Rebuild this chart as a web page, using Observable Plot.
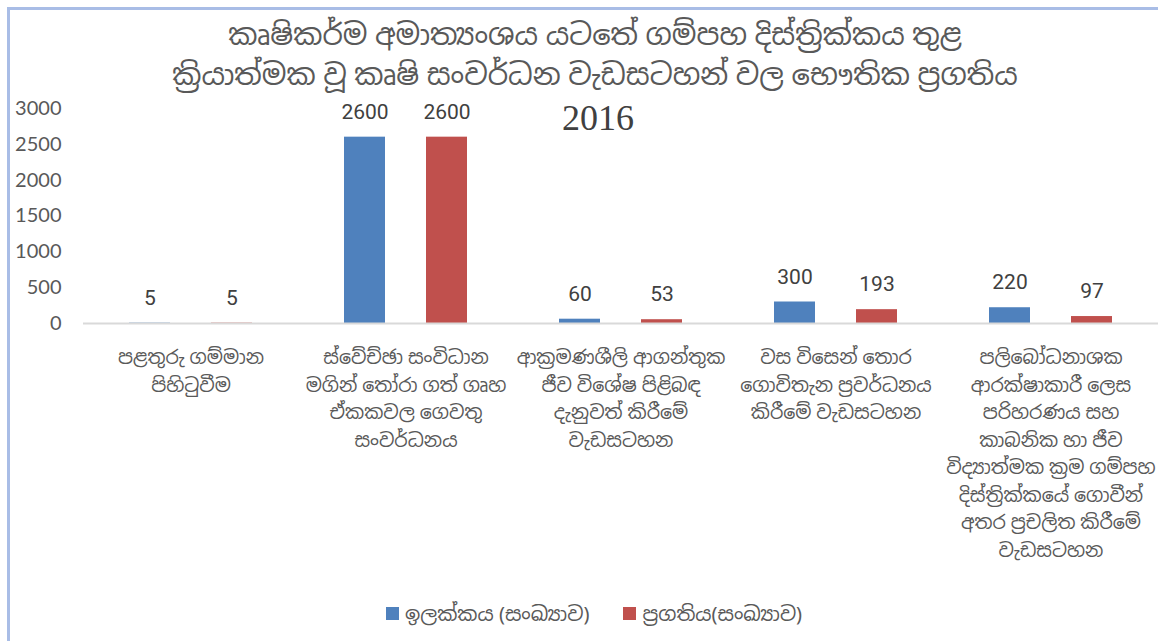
<!DOCTYPE html>
<html>
<head>
<meta charset="utf-8">
<script src="https://cdn.jsdelivr.net/npm/d3@7"></script>
<script src="https://cdn.jsdelivr.net/npm/@observablehq/plot@0.6"></script>
<style>
  html, body { margin: 0; padding: 0; background: #fff; }
  #wrap { position: relative; width: 1158px; height: 641px; overflow: hidden; font-family: "Noto Sans", "Noto Sans Sinhala", sans-serif; }
  #frame { position: absolute; left: 7px; top: 7px; width: 1151px; height: 634px; border-left: 3px solid #a9bde6; border-top: 3px solid #a9bde6; box-sizing: border-box; }
  #title { position: absolute; left: 0; width: 1190px; top: 14px; text-align: center; color: #595959; font-size: 29px; line-height: 40px; }
  #year { position: absolute; left: 0; width: 1196px; top: 97px; text-align: center; color: #404040; font-family: "Liberation Serif", "DejaVu Serif", serif; font-size: 36px; }
  #chart { position: absolute; left: 0; top: 0; }
  #legend { position: absolute; top: 600px; left: 0; width: 1158px; display: flex; justify-content: center; gap: 34px; color: #595959; font-size: 20px; padding-left: 30px; box-sizing: border-box; }
  #legend span.item { display: flex; align-items: center; gap: 6px; }
  #legend span.sw { display: inline-block; width: 13px; height: 13px; }
</style>
</head>
<body>
<div id="wrap">
  <div id="frame"></div>
  <div id="chart"></div>
  <div id="title"></div>
  <div id="year"></div>
  <div id="legend"></div>
</div>
<script>
const titleLines = [
  "කෘෂිකර්ම අමාත්‍යංශය යටතේ ගම්පහ දිස්ත්‍රික්කය තුළ",
  "ක්‍රියාත්මක වූ කෘෂි සංවර්ධන වැඩසටහන් වල භෞතික ප්‍රගතිය"
];
const titleYear = "2016";

const categoryLines = [
  ["පළතුරු ගම්මාන", "පිහිටුවීම"],
  ["ස්වේච්ඡා සංවිධාන", "මගින් තෝරා ගත් ගෘහ", "ඒකකවල ගෙවතු", "සංවර්ධනය"],
  ["ආක්‍රමණශීලි ආගන්තුක", "ජීව විශේෂ පිළිබඳ", "දැනුවත් කිරීමේ", "වැඩසටහන"],
  ["වස විසෙන් තොර", "ගොවිතැන ප්‍රවර්ධනය", "කිරීමේ වැඩසටහන"],
  ["පලිබෝධනාශක", "ආරක්ෂාකාරී ලෙස", "පරිහරණය සහ", "කාබනික හා ජීව", "විද්‍යාත්මක ක්‍රම ගම්පහ", "දිස්ත්‍රික්කයේ ගොවීන්", "අතර ප්‍රචලිත කිරීමේ", "වැඩසටහන"]
];
const categories = categoryLines.map(l => l.join("\n"));

const seriesNames = ["ඉලක්කය (සංඛ්‍යාව)", "ප්‍රගතිය(සංඛ්‍යාව)"];
const targetValues = [5, 2600, 60, 300, 220];
const progressValues = [5, 2600, 53, 193, 97];
const seriesColors = ["#4f81bd", "#c0504d"];
const yTicks = [0, 500, 1000, 1500, 2000, 2500, 3000];

const data = [];
categories.forEach((c, i) => {
  data.push({category: c, series: seriesNames[0], value: targetValues[i]});
  data.push({category: c, series: seriesNames[1], value: progressValues[i]});
});

document.getElementById("title").innerHTML = titleLines.map(t => `<div>${t}</div>`).join("");
document.getElementById("year").textContent = titleYear;

const chart = Plot.plot({
  width: 1158,
  height: 600,
  marginTop: 108,
  marginBottom: 277,
  marginLeft: 82,
  marginRight: 0,
  style: {background: "transparent", fontFamily: "'Noto Sans', 'Noto Sans Sinhala', sans-serif", color: "#595959"},
  fx: {domain: categories, padding: 0},
  x: {domain: seriesNames, paddingInner: 0.5, paddingOuter: 0.56, axis: null},
  y: {domain: [0, 3000], axis: null},
  color: {domain: seriesNames, range: seriesColors},
  marks: [
    Plot.axisY({ticks: yTicks, tickFormat: d => String(d), tickSize: 0, tickPadding: 22, fontSize: 20, label: null,
      fill: "#595959", fontFamily: "Lato, sans-serif"}),
    Plot.axisFx({anchor: "bottom", tickSize: 0, tickPadding: 21, fontSize: 19, lineHeight: 1.45, label: null,
      fill: "#595959"}),
    Plot.barY(data, {fx: "category", x: "series", y: "value", fill: "series"}),
    Plot.ruleY([0], {stroke: "#d9d9d9", strokeWidth: 2}),
    Plot.text(data, {fx: "category", x: "series", y: "value", text: d => String(d.value), dy: -25,
      fontSize: 21, fill: "#404040", fontFamily: "'Liberation Sans Narrow', 'Roboto', sans-serif"})
  ]
});
document.getElementById("chart").appendChild(chart);

document.getElementById("legend").innerHTML = seriesNames.map((s, i) =>
  `<span class="item"><span class="sw" style="background:${seriesColors[i]}"></span>${s}</span>`).join("");
</script>
</body>
</html>
